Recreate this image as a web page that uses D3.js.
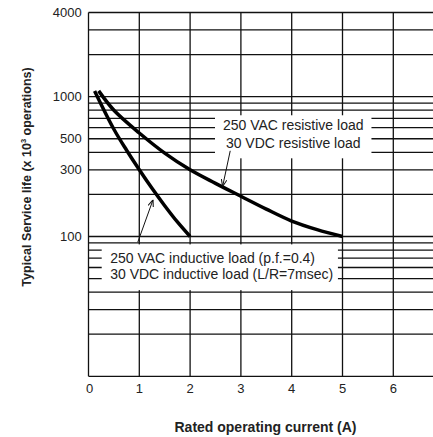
<!DOCTYPE html>
<html>
<head>
<meta charset="utf-8">
<script src="https://cdn.jsdelivr.net/npm/d3@7"></script>
<style>
  body { margin: 0; background: #fff; }
  text { font-family: Arial, "Liberation Sans", Helvetica, sans-serif; fill: #222; }
</style>
</head>
<body>
<div id="chart"></div>
<script>
// datos
const currentTicks = [0, 1, 2, 3, 4, 5, 6];
const lifeTicks = [100, 300, 500, 1000, 4000];
const currentGrid = [0, 1, 2, 3, 4, 5, 6, 7];
const lifeGrid = [10, 20, 30, 40, 50, 60, 70, 80, 90, 100, 200, 300, 400, 500, 600, 700, 800, 900, 1000, 2000, 3000, 4000];

const resistiveCurrent = [0.2, 0.5, 1, 1.5, 2, 2.5, 3, 3.5, 4, 4.5, 5];
const resistiveLife = [1100, 800, 550, 395, 300, 240, 194, 157, 129, 112, 100];

const inductiveCurrent = [0.12, 0.5, 0.75, 1, 1.25, 1.5, 1.75, 2];
const inductiveLife = [1100, 585, 414, 300, 221, 166, 127, 100];

const resistiveLabels = ["250 VAC resistive load", "30 VDC resistive load"];
const inductiveLabels = ["250 VAC inductive load (p.f.=0.4)", "30 VDC inductive load (L/R=7msec)"];

const width = 433, height = 437;

const svg = d3.select("#chart").append("svg")
  .attr("width", width)
  .attr("height", height);

const x = d3.scaleLinear().domain([0, 7]).range([88.5, 444.1]);
const y = d3.scaleLog().domain([10, 4000]).range([376.3, 12.5]);

svg.append("defs").append("marker")
  .attr("id", "flecha")
  .attr("viewBox", "0 0 10 10")
  .attr("refX", 10).attr("refY", 5)
  .attr("markerWidth", 7).attr("markerHeight", 7)
  .attr("markerUnits", "userSpaceOnUse")
  .attr("orient", "auto")
  .append("path")
  .attr("d", "M0,1 L10,5 L0,9")
  .attr("fill", "none")
  .attr("stroke", "#111")
  .attr("stroke-width", 1.5);

// grilla
const grid = svg.append("g").attr("stroke", "#111").attr("stroke-width", 1.3);

grid.selectAll("line.h")
  .data(lifeGrid)
  .enter().append("line")
  .attr("class", "h")
  .attr("x1", x(0)).attr("x2", x(7))
  .attr("y1", d => y(d)).attr("y2", d => y(d));

grid.selectAll("line.v")
  .data(currentGrid)
  .enter().append("line")
  .attr("class", "v")
  .attr("x1", d => x(d)).attr("x2", d => x(d))
  .attr("y1", y(4000)).attr("y2", y(10));

// cajas de leyenda (tapan la grilla)
const resBox = { x0: x(2.49), x1: x(5.57), y0: (y(800) + y(700)) / 2 + 1, y1: y(400) + 6 };
const indBox = { x0: x(0.26), x1: x(4.91), y0: y(90) + 1.5, y1: y(40) - 2 };

[resBox, indBox].forEach(b => {
  svg.append("rect")
    .attr("x", b.x0).attr("y", b.y0)
    .attr("width", b.x1 - b.x0).attr("height", b.y1 - b.y0)
    .attr("fill", "#fff");
});

svg.selectAll("text.res")
  .data(resistiveLabels)
  .enter().append("text")
  .attr("class", "res")
  .attr("x", (resBox.x0 + resBox.x1) / 2)
  .attr("y", (d, i) => resBox.y0 + 15 + i * 17.5)
  .attr("text-anchor", "middle")
  .style("font-size", "14px")
  .text(d => d);

svg.selectAll("text.ind")
  .data(inductiveLabels)
  .enter().append("text")
  .attr("class", "ind")
  .attr("x", indBox.x0 + 8.5)
  .attr("y", (d, i) => indBox.y0 + 19 + i * 16)
  .style("font-size", "14px")
  .text(d => d);

// curvas
const linea = d3.line()
  .x(d => x(d[0]))
  .y(d => y(d[1]))
  .curve(d3.curveCatmullRom.alpha(0.5));

svg.append("path")
  .datum(d3.zip(resistiveCurrent, resistiveLife))
  .attr("d", linea)
  .attr("fill", "none")
  .attr("stroke", "#000")
  .attr("stroke-width", 3.5);

svg.append("path")
  .datum(d3.zip(inductiveCurrent, inductiveLife))
  .attr("d", linea)
  .attr("fill", "none")
  .attr("stroke", "#000")
  .attr("stroke-width", 3.5);

// flechas
const flechas = [
  { from: [2.79, 410], to: [2.64, 228] },
  { from: [0.97, 91], to: [1.27, 183] }
];

svg.selectAll("line.flecha")
  .data(flechas)
  .enter().append("line")
  .attr("class", "flecha")
  .attr("x1", d => x(d.from[0])).attr("y1", d => y(d.from[1]))
  .attr("x2", d => x(d.to[0])).attr("y2", d => y(d.to[1]))
  .attr("stroke", "#111")
  .attr("stroke-width", 1)
  .attr("marker-end", "url(#flecha)");

// etiquetas de ejes
svg.selectAll("text.ytick")
  .data(lifeTicks)
  .enter().append("text")
  .attr("class", "ytick")
  .attr("x", 81.7)
  .attr("y", d => y(d))
  .attr("dy", "0.36em")
  .attr("text-anchor", "end")
  .style("font-size", "13px")
  .text(d => d);

svg.selectAll("text.xtick")
  .data(currentTicks)
  .enter().append("text")
  .attr("class", "xtick")
  .attr("x", d => x(d) + (d === 0 ? 1 : 0))
  .attr("y", 393.3)
  .attr("text-anchor", "middle")
  .style("font-size", "13px")
  .text(d => d);

svg.append("text")
  .attr("x", 265.5)
  .attr("y", 432)
  .attr("text-anchor", "middle")
  .style("font-size", "14px")
  .style("font-weight", "bold")
  .text("Rated operating current (A)");

const yl = svg.append("text")
  .attr("transform", "translate(31,177) rotate(-90)")
  .attr("text-anchor", "middle")
  .style("font-size", "12.5px")
  .style("font-weight", "bold");
yl.append("tspan").text("Typical Service life (x 10");
yl.append("tspan").attr("dy", "-5").style("font-size", "7.5px").text("3");
yl.append("tspan").attr("dy", "5").text(" operations)");
</script>
</body>
</html>
